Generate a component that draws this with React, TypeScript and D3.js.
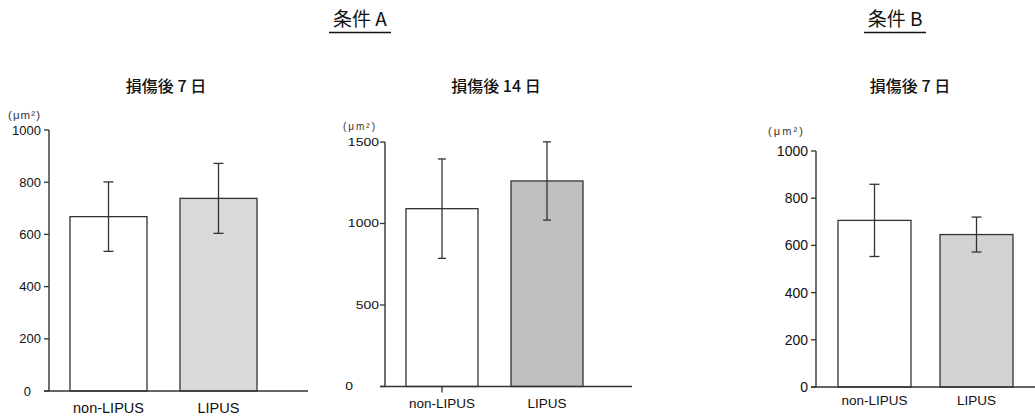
import * as d3 from "d3";

const categories = ["non-LIPUS", "LIPUS"];

const condA7Means = [668, 738];
const condA7Errors = [133, 134];
const condA14Means = [1091, 1261];
const condA14Errors = [305, 240];
const condB7Means = [706, 646];
const condB7Errors = [153, 74];

const ticks1000 = [0, 200, 400, 600, 800, 1000];
const ticks1500 = [0, 500, 1000, 1500];

const headers = ["条件 A", "条件 B"];
const panelTitles = ["損傷後 7 日", "損傷後 14 日", "損傷後 7 日"];
const unitLabel = "(μm²)";

const FONT = "Arial, 'Liberation Sans', Helvetica, sans-serif";
const CJK = "'Noto Sans CJK JP', sans-serif";
const INK = "#333";

interface Panel {
  title: string;
  means: number[];
  errors: number[];
  ticks: number[];
  maxY: number;
  fill: string;
  axisX: number;
  yTop: number;
  yZero: number;
  xEnd: number;
  bandStart: number;
  step: number;
  barW: number;
  tickFont: number;
  tickStretch: number;
  tickGap: number;
  zeroDx: number;
  unitX: number;
  unitY: number;
  unitFont: number;
  unitW: number;
  catY: number;
  catFont: number;
  titleX: number;
  capW: number;
  firstCatTick: boolean;
}

const panels: Panel[] = [
  {
    title: panelTitles[0], means: condA7Means, errors: condA7Errors, ticks: ticks1000, maxY: 1000,
    fill: "#d9d9d9", axisX: 49, yTop: 130, yZero: 391, xEnd: 308, bandStart: 70, step: 110, barW: 77,
    tickFont: 13, tickStretch: 1, tickGap: 8, zeroDx: -10, unitX: 8, unitY: 119, unitFont: 11.5, unitW: 32,
    catY: 413, catFont: 14.5, titleX: 166, capW: 10, firstCatTick: false,
  },
  {
    title: panelTitles[1], means: condA14Means, errors: condA14Errors, ticks: ticks1500, maxY: 1500,
    fill: "#c0c0c0", axisX: 385, yTop: 142, yZero: 386.5, xEnd: 632, bandStart: 406, step: 105, barW: 72,
    tickFont: 10, tickStretch: 1.4, tickGap: 6, zeroDx: -26, unitX: 343, unitY: 130, unitFont: 10, unitW: 32,
    catY: 408, catFont: 13.5, titleX: 496, capW: 8, firstCatTick: true,
  },
  {
    title: panelTitles[2], means: condB7Means, errors: condB7Errors, ticks: ticks1000, maxY: 1000,
    fill: "#d3d3d3", axisX: 816, yTop: 151, yZero: 387, xEnd: 1035, bandStart: 838, step: 102, barW: 73,
    tickFont: 14, tickStretch: 1, tickGap: 8, zeroDx: 0, unitX: 768, unitY: 135, unitFont: 11, unitW: 35,
    catY: 405, catFont: 13.5, titleX: 910, capW: 10, firstCatTick: false,
  },
];

function BarPanel({ p }: { p: Panel }) {
  const y = d3.scaleLinear().domain([0, p.maxY]).range([p.yZero, p.yTop]);
  const pad = 1 - p.barW / p.step;
  const outer = (p.bandStart - p.axisX) / p.step;
  const width = p.step * (categories.length - pad + 2 * outer);
  const x = d3
    .scaleBand()
    .domain(categories)
    .range([p.axisX, p.axisX + width])
    .paddingInner(pad)
    .paddingOuter(outer);

  return (
    <g>
      <text x={p.titleX} y={92} textAnchor="middle" fontFamily={CJK} fontSize={16} fontWeight={500} fill="#111">
        {p.title}
      </text>
      <text
        x={p.unitX}
        y={p.unitY}
        fontFamily={FONT}
        fontSize={p.unitFont}
        fill={INK}
        textLength={p.unitW}
        lengthAdjust="spacing"
      >
        {unitLabel}
      </text>

      {categories.map((c, i) => {
        const x0 = x(c) || 0;
        const cx = x0 + x.bandwidth() / 2;
        const top = y(p.means[i] + p.errors[i]);
        const bot = y(p.means[i] - p.errors[i]);
        return (
          <g key={c}>
            <rect
              x={x0}
              y={y(p.means[i])}
              width={x.bandwidth()}
              height={p.yZero - y(p.means[i])}
              fill={i === 0 ? "#fff" : p.fill}
              stroke={INK}
              strokeWidth={1.3}
            />
            <line x1={cx} x2={cx} y1={top} y2={bot} stroke={INK} strokeWidth={1.3} />
            <line x1={cx - p.capW / 2} x2={cx + p.capW / 2} y1={top} y2={top} stroke={INK} strokeWidth={1.3} />
            <line x1={cx - p.capW / 2} x2={cx + p.capW / 2} y1={bot} y2={bot} stroke={INK} strokeWidth={1.3} />
            {i === 0 && p.firstCatTick && (
              <line x1={cx} x2={cx} y1={p.yZero} y2={p.yZero + 6} stroke={INK} strokeWidth={1.3} />
            )}
            <text x={cx} y={p.catY} textAnchor="middle" fontFamily={FONT} fontSize={p.catFont} fill="#111">
              {c}
            </text>
          </g>
        );
      })}

      <line x1={p.axisX} x2={p.axisX} y1={p.yTop} y2={p.yZero} stroke={INK} strokeWidth={1.4} />
      <line x1={p.axisX - 5} x2={p.xEnd} y1={p.yZero} y2={p.yZero} stroke={INK} strokeWidth={1.4} />
      {p.ticks.map((t) => (
        <g key={t}>
          <line x1={p.axisX - 5} x2={p.axisX} y1={y(t)} y2={y(t)} stroke={INK} strokeWidth={1.3} />
          <g transform={`translate(${p.axisX - p.tickGap + (t === 0 ? p.zeroDx : 0)},${y(t)}) scale(${p.tickStretch},1)`}>
            <text dy="0.35em" textAnchor="end" fontFamily={FONT} fontSize={p.tickFont} fill="#111">
              {t}
            </text>
          </g>
        </g>
      ))}
    </g>
  );
}

export default function App() {
  const headerX = [360, 895];
  return (
    <svg
      width={1035}
      height={418}
      viewBox="0 0 1035 418"
      style={{ position: "absolute", left: 0, top: 0, background: "#fff" }}
    >
      <rect width={1035} height={418} fill="#fff" />
      {headers.map((h, i) => (
        <g key={h}>
          <text x={headerX[i]} y={26} textAnchor="middle" fontFamily={CJK} fontSize={19} fill="#111">
            {h}
          </text>
          <line x1={headerX[i] - 31} x2={headerX[i] + 31} y1={32.5} y2={32.5} stroke="#111" strokeWidth={1.3} />
        </g>
      ))}
      {panels.map((p, i) => (
        <BarPanel key={i} p={p} />
      ))}
    </svg>
  );
}
